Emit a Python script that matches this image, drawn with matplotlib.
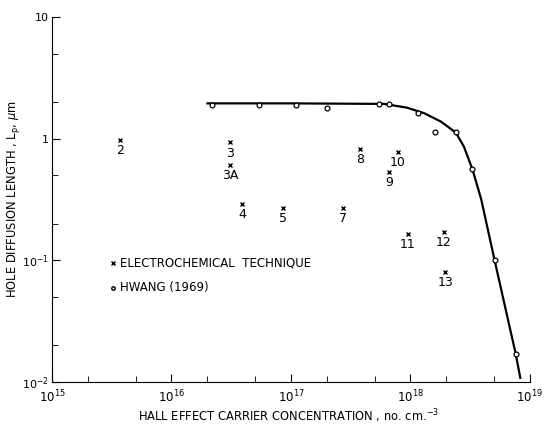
import matplotlib
matplotlib.use("Agg")
import matplotlib.pyplot as plt
from matplotlib.ticker import LogLocator, NullFormatter, FixedFormatter, FixedLocator

# electrochemical technique samples
ec_labels = ["2", "3", "3A", "4", "5", "7", "8", "9", "10", "11", "12", "13"]
ec_conc = [3.7e15, 3.1e16, 3.1e16, 3.9e16, 8.5e16, 2.7e17, 3.8e17, 6.6e17, 7.8e17, 9.5e17, 1.9e18, 1.95e18]
ec_lp = [0.98, 0.93, 0.61, 0.29, 0.27, 0.27, 0.83, 0.53, 0.78, 0.165, 0.17, 0.08]

# Hwang (1969)
hw_conc = [2.17e16, 5.4e16, 1.1e17, 2.0e17, 5.5e17, 6.6e17, 1.15e18, 1.6e18, 2.4e18, 3.3e18, 5.06e18, 7.6e18]
hw_lp = [1.9, 1.9, 1.9, 1.77, 1.94, 1.94, 1.64, 1.14, 1.14, 0.56, 0.10, 0.017]

# fitted curve
fit_conc = [2.0e16, 1e17, 6e17, 9.3e17, 1.3e18, 1.8e18, 2.4e18, 2.8e18, 3.3e18, 3.9e18, 5.06e18, 7.6e18, 8.3e18]
fit_lp = [1.95, 1.95, 1.93, 1.80, 1.62, 1.38, 1.12, 0.86, 0.56, 0.32, 0.10, 0.017, 0.0108]

xticks = [1e15, 1e16, 1e17, 1e18, 1e19]
xtick_labels = [r"$10^{15}$", r"$10^{16}$", r"$10^{17}$", r"$10^{18}$", r"$10^{19}$"]
yticks = [1e-2, 1e-1, 1, 10]
ytick_labels = [r"$10^{-2}$", r"$10^{-1}$", "1", "10"]

plt.rcParams["font.family"] = "DejaVu Sans"
plt.rcParams["mathtext.fontset"] = "dejavusans"

fig = plt.figure(figsize=(5.44, 4.28), dpi=100)
ax = fig.add_axes([0.0956, 0.1075, 0.8786, 0.8528])

ax.plot(fit_conc, fit_lp, color="black", lw=1.6)
ax.plot(hw_conc, hw_lp, "o", ms=3.5, mfc="white", mec="black", mew=0.9)
ax.plot(ec_conc, ec_lp, "x", ms=3.5, color="black", mew=1.0)
for lab, xc, yl in zip(ec_labels, ec_conc, ec_lp):
    ax.annotate(lab, (xc, yl), xytext=(0, -3), textcoords="offset points",
                ha="center", va="top", fontsize=9)

ax.set_xscale("log")
ax.set_yscale("log")
ax.set_xlim(1e15, 1e19)
ax.set_ylim(1e-2, 10)

ax.xaxis.set_major_locator(FixedLocator(xticks))
ax.xaxis.set_major_formatter(FixedFormatter(xtick_labels))
ax.yaxis.set_major_locator(FixedLocator(yticks))
ax.yaxis.set_major_formatter(FixedFormatter(ytick_labels))
ax.xaxis.set_minor_locator(LogLocator(base=10, subs=[2, 5]))
ax.yaxis.set_minor_locator(LogLocator(base=10, subs=[2, 5]))
ax.xaxis.set_minor_formatter(NullFormatter())
ax.yaxis.set_minor_formatter(NullFormatter())
ax.tick_params(which="both", direction="in", top=False, right=False, labelsize=8.5)
ax.tick_params(axis="y", labelsize=8)
ax.tick_params(which="major", length=6)
ax.tick_params(which="minor", length=4)
ax.tick_params(axis="x", pad=5)
ax.tick_params(axis="y", pad=2)

for s in ["top", "right"]:
    ax.spines[s].set_visible(False)

# legend drawn as text
ax.plot([0.128], [0.327], "x", ms=3, color="black", transform=ax.transAxes)
ax.text(0.143, 0.327, "ELECTROCHEMICAL  TECHNIQUE", transform=ax.transAxes,
        va="center", fontsize=8.5)
ax.plot([0.128], [0.258], "o", ms=2.5, mfc="white", mec="black", transform=ax.transAxes)
ax.text(0.143, 0.258, "HWANG (1969)", transform=ax.transAxes, va="center", fontsize=8.5)

fig.text(0.53, 0.028, r"HALL EFFECT CARRIER CONCENTRATION , no. cm.$^{-3}$",
         fontsize=8.3, ha="center", va="center")
fig.text(0.024, 0.534, r"HOLE DIFFUSION LENGTH , L$_\mathrm{p}$, $\mu$m",
         fontsize=8.3, ha="center", va="center", rotation=90)

fig.savefig("out.png", dpi=100)
